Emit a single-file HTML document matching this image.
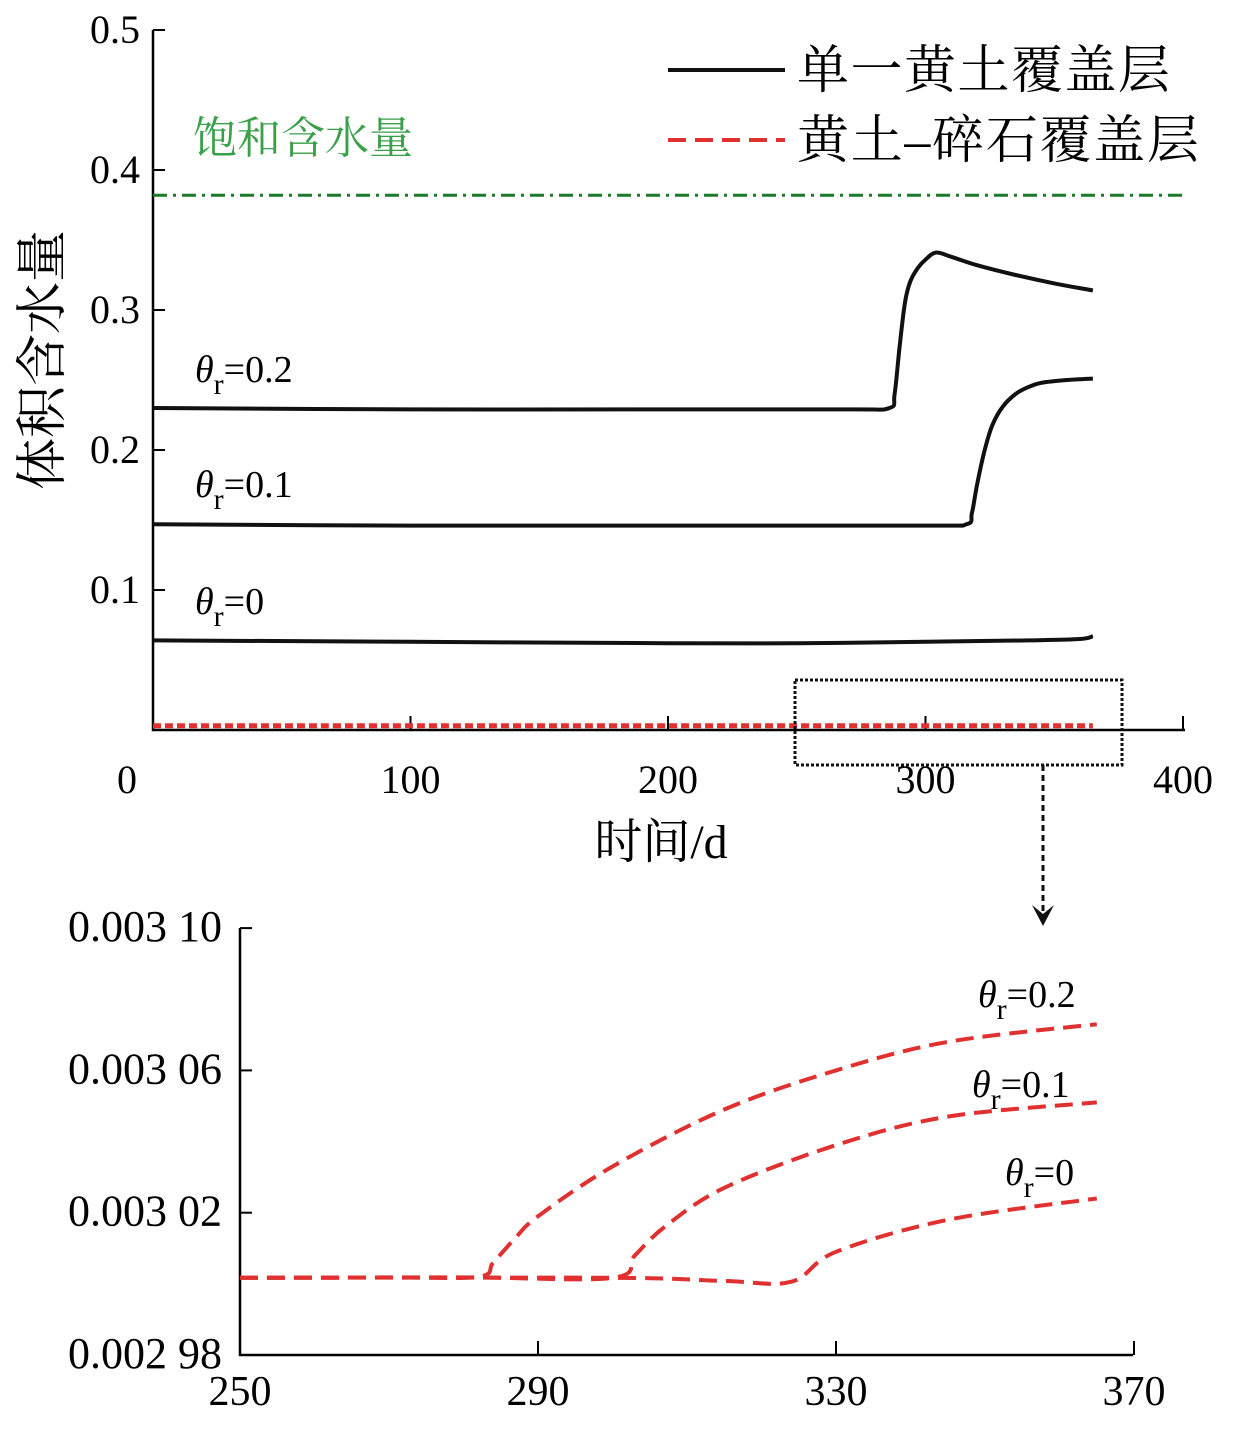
<!DOCTYPE html>
<html><head><meta charset="utf-8"><style>
body{margin:0;background:#fff}
svg text{font-family:"Liberation Serif","Noto Serif CJK SC",serif}
</style></head><body>
<svg id="c" width="1240" height="1424" viewBox="0 0 1240 1424" xmlns="http://www.w3.org/2000/svg"></svg>
<script>
const topXTicks=[0,100,200,300,400];
const topYTicks=[0.1,0.2,0.3,0.4,0.5];
const days02=[0,100,200,270,286,288,290,292,294,297,300,304,310,320,335,350,365];
const vals02=[0.230,0.229,0.229,0.229,0.230,0.240,0.275,0.305,0.320,0.330,0.336,0.341,0.338,0.332,0.325,0.319,0.314];
const days01=[0,100,200,300,316,318,320,323,326,330,335,340,345,355,365];
const vals01=[0.147,0.146,0.146,0.146,0.147,0.155,0.175,0.200,0.218,0.231,0.240,0.245,0.248,0.250,0.251];
const days00=[0,100,200,250,300,340,360,365];
const vals00=[0.064,0.063,0.062,0.062,0.063,0.064,0.065,0.067];
const daysR=[0,365];
const valsR=[0.003,0.003];
const satVal=0.382;
const botXTicks=[250,290,330,370];
const botYTicks=[0.00298,0.00302,0.00306,0.00310];
const botYLabels=["0.002 98","0.003 02","0.003 06","0.003 10"];
const bd02=[250,270,282,284,287,290,300,315,330,345,365];
const bv02=[0.0030017,0.0030018,0.003002,0.006,0.003013,0.003019,0.003033,0.003049,0.003060,0.003068,0.003073];
bv02[3]=0.003006;
const bd01=[250,280,300,303,307,315,330,345,365];
const bv01=[0.0030017,0.0030018,0.0030017,0.003008,0.003016,0.003027,0.003039,0.003047,0.003051];
const bd00=[250,300,315,324,330,345,365];
const bv00=[0.0030017,0.0030017,0.0030008,0.0030006,0.003009,0.003018,0.003024];

const NS="http://www.w3.org/2000/svg";
const svg=document.getElementById('c');
function mk(tag,attrs,txt,parent){const e=document.createElementNS(NS,tag);for(const k in attrs)e.setAttribute(k,attrs[k]);if(txt!==undefined)e.textContent=txt;(parent||svg).appendChild(e);return e;}
const tx=d=>153+d*2.575, ty=v=>730-v*1400;
const bx=d=>240+(d-250)*7.45, by=v=>1355-(v-0.00298)/0.00004*142.3;
function path(xs,ys,fx,fy){
 const p=xs.map((d,i)=>[fx(d),fy(ys[i])]);
 let s='M'+p[0][0].toFixed(1)+','+p[0][1].toFixed(1);
 for(let i=0;i<p.length-1;i++){
  const p0=p[i-1]||p[i],p1=p[i],p2=p[i+1],p3=p[i+2]||p2;
  const c1=[p1[0]+(p2[0]-p0[0])/6,p1[1]+(p2[1]-p0[1])/6];
  const c2=[p2[0]-(p3[0]-p1[0])/6,p2[1]-(p3[1]-p1[1])/6];
  s+='C'+c1[0].toFixed(1)+','+c1[1].toFixed(1)+' '+c2[0].toFixed(1)+','+c2[1].toFixed(1)+' '+p2[0].toFixed(1)+','+p2[1].toFixed(1);
 }
 return s;
}

let e;
e=mk('path',{d:'M153,30 L153,730 L1185,730',fill:'none',stroke:'#000','stroke-width':2.5});

topYTicks.forEach(t=>{
 e=mk('line',{x1:153,x2:165,y1:ty(t),y2:ty(t),stroke:'#000','stroke-width':2});
 
 e=mk('text',{x:140,y:ty(t)+13,'text-anchor':'end','font-size':40},t.toFixed(1));
 
});
topXTicks.forEach(t=>{
 if(t>0){e=mk('line',{x1:tx(t),x2:tx(t),y1:730,y2:716,stroke:'#000','stroke-width':2});
 }
 e=mk('text',{x:t===0?127:tx(t),y:793,'text-anchor':'middle','font-size':40},String(t));
 
});
e=mk('text',{x:661,y:858,'text-anchor':'middle','font-size':48},'时间/d');

e=mk('text',{x:0,y:0,'text-anchor':'middle','font-size':52,transform:'translate(60,360) rotate(-90)'},'体积含水量');


e=mk('line',{x1:153,x2:1185,y1:ty(satVal),y2:ty(satVal),stroke:'#1a7a2a','stroke-width':3,'stroke-dasharray':'14,6,3,6'});

e=mk('text',{x:193,y:153,'font-size':44,fill:'#3aa04a'},'饱和含水量');


[[days02,vals02,'loess-curve-0-2'],[days01,vals01,'loess-curve-0-1'],[days00,vals00,'loess-curve-0']].forEach(s=>{
 e=mk('path',{d:path(s[0],s[1],tx,ty),fill:'none',stroke:'#111','stroke-width':4,'stroke-linejoin':'round'});
 
});
e=mk('path',{d:path(daysR,valsR,tx,ty),fill:'none',stroke:'#e03030','stroke-width':5,'stroke-dasharray':'8,4'});


function thetaLabel(x,y,val,name){
 const g=mk('text',{x:x,y:y,'font-size':38});
 
 mk('tspan',{'font-style':'italic'},'θ',g);
 mk('tspan',{dy:12,'font-size':30},'r',g);
 mk('tspan',{dy:-12},'='+val,g);
}
thetaLabel(195,382,'0.2','label-theta-0-2');
thetaLabel(195,497,'0.1','label-theta-0-1');
thetaLabel(195,614,'0','label-theta-0');

e=mk('line',{x1:668,x2:785,y1:70,y2:70,stroke:'#111','stroke-width':4});

e=mk('text',{x:797,y:88,'font-size':52,textLength:373},'单一黄土覆盖层');

e=mk('line',{x1:668,x2:785,y1:140,y2:140,stroke:'#e03030','stroke-width':4,'stroke-dasharray':'18,9'});

e=mk('text',{x:797,y:158,'font-size':52,textLength:402},'黄土–碎石覆盖层');


e=mk('rect',{x:795,y:680,width:327,height:85,fill:'none',stroke:'#111','stroke-width':3,'stroke-dasharray':'3,2'});

e=mk('line',{x1:1043,x2:1043,y1:765,y2:915,stroke:'#111','stroke-width':3,'stroke-dasharray':'6,4'});

e=mk('path',{d:'M1032,905 L1043,926 L1054,905 L1043,914 Z',fill:'#111'});


e=mk('path',{d:'M240,928 L240,1355 L1133,1355',fill:'none',stroke:'#000','stroke-width':2.5});

botYTicks.forEach((t,i)=>{
 e=mk('line',{x1:240,x2:252,y1:by(t),y2:by(t),stroke:'#000','stroke-width':2});
 
 e=mk('text',{x:222,y:by(t)+13,'text-anchor':'end','font-size':44},botYLabels[i]);
 
});
botXTicks.forEach(t=>{
 e=mk('line',{x1:bx(t),x2:bx(t),y1:1355,y2:1341,stroke:'#000','stroke-width':2});
 
 e=mk('text',{x:bx(t),y:1405,'text-anchor':'middle','font-size':42},String(t));
 
});
[[bd02,bv02,'gravel-curve-0-2'],[bd01,bv01,'gravel-curve-0-1'],[bd00,bv00,'gravel-curve-0']].forEach(s=>{
 e=mk('path',{d:path(s[0],s[1],bx,by),fill:'none',stroke:'#e03030','stroke-width':4,'stroke-dasharray':'18,9'});
 
});
thetaLabel(978,1007,'0.2','bottom-label-theta-0-2');
thetaLabel(972,1097,'0.1','bottom-label-theta-0-1');
thetaLabel(1005,1185,'0','bottom-label-theta-0');
</script>
</body></html>
